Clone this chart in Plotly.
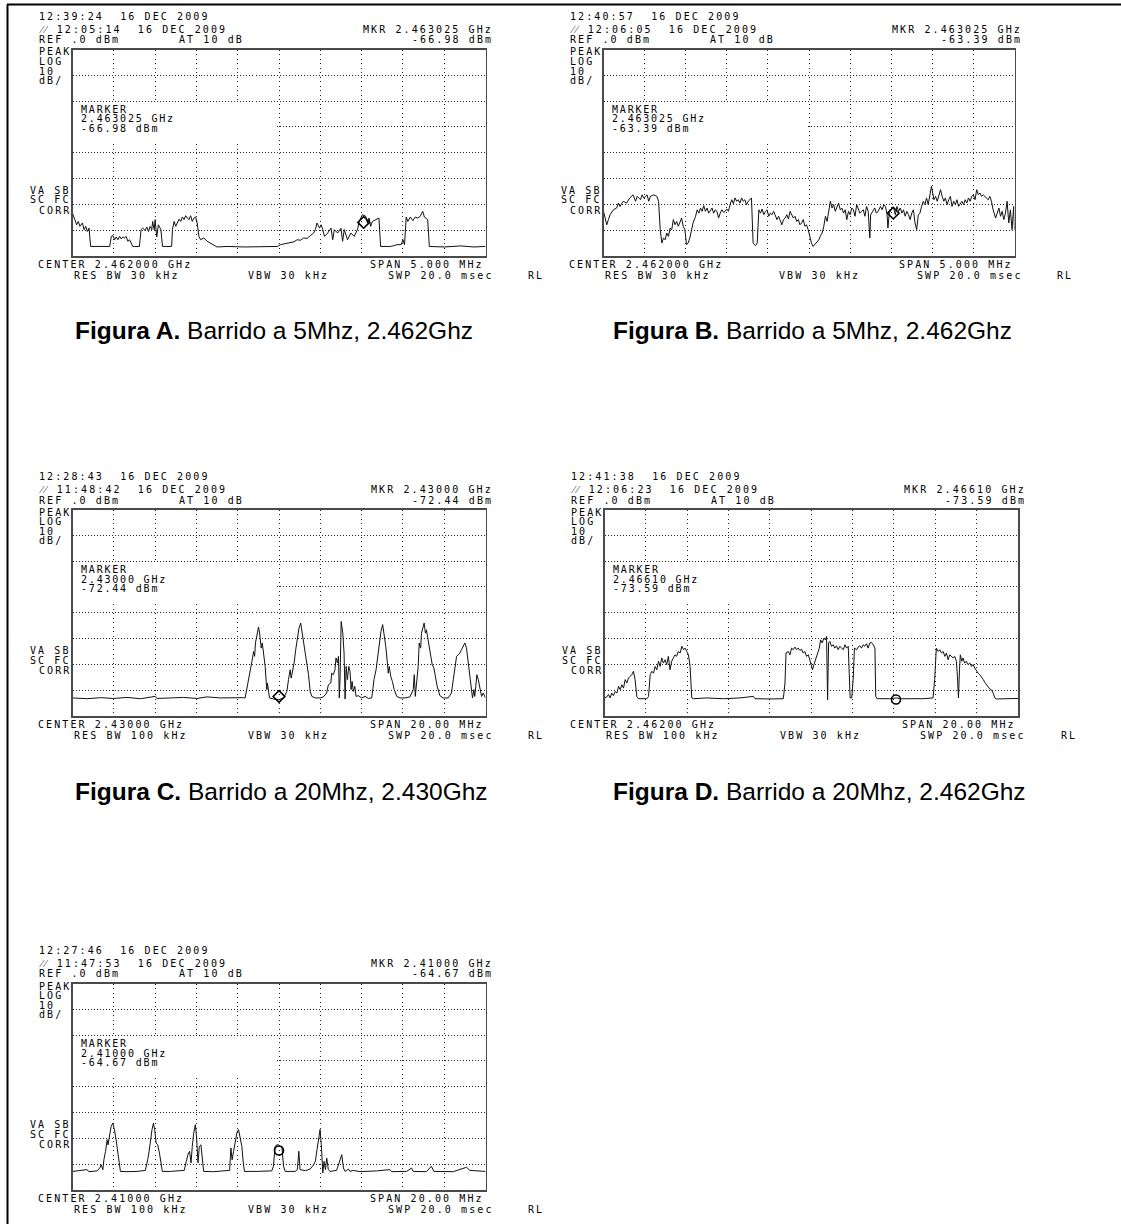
import plotly.graph_objects as go

W, H = 1121, 1224

# ---------------- data (frequency offset from CENTER in MHz, level in dBm) ----------------
A_center_ghz = 2.462
A_span_mhz = 5.0
A_trace = [(-2.50,-63.4),(-2.47,-65.9),(-2.45,-67.9),(-2.43,-66.6),(-2.41,-68.5),(-2.38,-67.2),(-2.36,-69.8),(-2.34,-68.5),(-2.32,-70.5),(-2.30,-69.2),(-2.28,-76.3),(-2.05,-76.3),(-2.03,-72.4),(-2.01,-72.1),(-1.99,-73.7),(-1.97,-72.6),(-1.95,-73.7),(-1.93,-72.4),(-1.91,-73.4),(-1.89,-72.6),(-1.87,-73.0),(-1.85,-72.4),(-1.83,-74.3),(-1.81,-73.7),(-1.79,-75.2),(-1.77,-76.3),(-1.69,-76.3),(-1.67,-69.8),(-1.65,-69.2),(-1.62,-70.1),(-1.60,-68.8),(-1.58,-70.5),(-1.56,-68.5),(-1.54,-69.8),(-1.53,-66.6),(-1.51,-69.8),(-1.50,-65.9),(-1.48,-72.6),(-1.46,-67.9),(-1.43,-69.8),(-1.41,-76.3),(-1.30,-76.3),(-1.29,-69.8),(-1.27,-66.6),(-1.25,-68.5),(-1.23,-67.2),(-1.21,-65.7),(-1.19,-66.6),(-1.17,-64.9),(-1.15,-65.9),(-1.13,-64.4),(-1.11,-65.3),(-1.09,-65.9),(-1.07,-64.4),(-1.05,-66.6),(-1.03,-65.3),(-1.01,-64.9),(-0.99,-67.2),(-0.97,-72.4),(-0.95,-73.7),(-0.91,-73.0),(-0.87,-74.3),(-0.83,-75.0),(-0.79,-75.6),(-0.75,-76.5),(-0.63,-76.3),(-0.42,-76.5),(-0.22,-76.4),(-0.02,-76.3),(0.02,-75.6),(0.10,-75.0),(0.18,-74.5),(0.22,-73.7),(0.26,-73.9),(0.30,-73.0),(0.34,-73.2),(0.38,-72.1),(0.42,-71.1),(0.44,-69.8),(0.46,-67.2),(0.49,-69.2),(0.51,-67.9),(0.53,-69.8),(0.55,-72.4),(0.59,-71.1),(0.63,-69.2),(0.65,-73.7),(0.67,-69.8),(0.71,-71.1),(0.75,-69.2),(0.77,-74.3),(0.79,-69.8),(0.83,-73.7),(0.87,-71.1),(0.91,-72.4),(0.95,-69.8),(0.97,-66.6),(0.99,-65.3),(1.01,-64.0),(1.05,-64.6),(1.07,-67.2),(1.09,-65.3),(1.11,-68.5),(1.13,-66.6),(1.17,-65.9),(1.21,-65.3),(1.23,-76.3),(1.35,-76.3),(1.39,-76.0),(1.43,-75.6),(1.48,-75.6),(1.50,-73.7),(1.52,-75.6),(1.54,-64.9),(1.56,-66.6),(1.59,-64.9),(1.62,-66.3),(1.65,-64.9),(1.68,-65.3),(1.71,-64.6),(1.74,-62.7),(1.76,-64.9),(1.80,-65.9),(1.82,-76.3),(2.00,-76.5),(2.20,-76.1),(2.36,-76.5),(2.50,-76.3)]
A_marker = (1.025, -66.98)

B_center_ghz = 2.462
B_span_mhz = 5.0
B_trace = [(-2.50,-62.7),(-2.48,-65.3),(-2.46,-67.9),(-2.44,-65.9),(-2.42,-64.0),(-2.38,-62.1),(-2.34,-61.4),(-2.32,-59.5),(-2.30,-60.8),(-2.26,-58.8),(-2.22,-59.5),(-2.18,-57.5),(-2.14,-56.3),(-2.11,-58.8),(-2.09,-56.9),(-2.05,-58.2),(-2.03,-56.3),(-2.01,-57.5),(-1.97,-56.3),(-1.95,-58.8),(-1.93,-56.9),(-1.89,-56.3),(-1.85,-56.9),(-1.83,-58.8),(-1.81,-69.8),(-1.79,-75.0),(-1.77,-73.0),(-1.75,-73.7),(-1.73,-71.1),(-1.71,-72.4),(-1.69,-69.2),(-1.67,-69.8),(-1.65,-65.9),(-1.63,-67.9),(-1.61,-66.6),(-1.59,-68.5),(-1.57,-67.2),(-1.55,-65.3),(-1.53,-68.5),(-1.51,-69.8),(-1.49,-75.6),(-1.47,-75.0),(-1.45,-73.0),(-1.43,-69.8),(-1.41,-67.2),(-1.38,-64.6),(-1.36,-62.1),(-1.34,-63.4),(-1.32,-61.4),(-1.30,-62.7),(-1.28,-60.5),(-1.26,-62.7),(-1.24,-61.4),(-1.22,-63.4),(-1.20,-62.1),(-1.18,-61.4),(-1.16,-63.4),(-1.14,-62.1),(-1.12,-62.7),(-1.10,-65.3),(-1.08,-63.4),(-1.06,-62.1),(-1.04,-63.1),(-1.02,-62.7),(-1.00,-61.8),(-0.98,-62.7),(-0.96,-60.1),(-0.94,-58.2),(-0.92,-59.7),(-0.90,-57.5),(-0.88,-58.8),(-0.86,-58.2),(-0.84,-59.5),(-0.82,-57.5),(-0.80,-58.8),(-0.78,-58.2),(-0.76,-60.1),(-0.74,-58.8),(-0.72,-58.2),(-0.70,-57.5),(-0.68,-75.0),(-0.65,-76.0),(-0.63,-75.0),(-0.61,-62.1),(-0.59,-63.4),(-0.57,-61.8),(-0.55,-64.0),(-0.53,-62.7),(-0.51,-62.1),(-0.49,-64.6),(-0.47,-63.4),(-0.45,-64.0),(-0.43,-62.7),(-0.41,-64.6),(-0.39,-65.9),(-0.37,-64.6),(-0.35,-66.6),(-0.33,-67.9),(-0.31,-65.9),(-0.29,-65.3),(-0.27,-64.0),(-0.25,-65.7),(-0.23,-62.7),(-0.21,-64.0),(-0.19,-65.3),(-0.17,-64.6),(-0.15,-66.6),(-0.13,-65.9),(-0.11,-67.9),(-0.09,-67.2),(-0.07,-65.9),(-0.05,-68.5),(-0.03,-67.9),(-0.01,-69.8),(0.01,-72.4),(0.03,-75.0),(0.05,-76.3),(0.08,-75.0),(0.10,-74.3),(0.12,-73.7),(0.14,-72.1),(0.16,-71.1),(0.18,-68.5),(0.20,-64.6),(0.22,-66.6),(0.24,-62.7),(0.26,-58.8),(0.28,-61.4),(0.30,-60.1),(0.32,-62.7),(0.34,-60.8),(0.36,-59.5),(0.38,-62.1),(0.40,-61.4),(0.42,-63.4),(0.44,-62.1),(0.46,-65.9),(0.48,-62.7),(0.50,-64.0),(0.52,-61.4),(0.54,-62.1),(0.56,-64.6),(0.58,-60.1),(0.60,-62.1),(0.62,-63.4),(0.64,-62.7),(0.66,-62.1),(0.68,-64.6),(0.70,-60.8),(0.72,-62.7),(0.74,-73.0),(0.75,-64.0),(0.78,-62.1),(0.80,-61.4),(0.82,-63.4),(0.84,-62.7),(0.87,-60.8),(0.89,-62.1),(0.91,-60.1),(0.93,-60.8),(0.95,-64.0),(0.96,-69.2),(0.98,-62.1),(0.99,-62.7),(1.01,-61.4),(1.03,-61.4),(1.05,-64.0),(1.07,-60.8),(1.09,-62.7),(1.11,-61.4),(1.13,-63.4),(1.15,-62.1),(1.17,-64.6),(1.19,-62.7),(1.21,-64.0),(1.23,-65.9),(1.25,-63.4),(1.27,-62.1),(1.29,-67.2),(1.31,-69.8),(1.33,-64.0),(1.35,-63.4),(1.37,-60.8),(1.39,-58.8),(1.41,-60.1),(1.43,-57.5),(1.45,-60.1),(1.47,-56.9),(1.49,-53.0),(1.52,-58.2),(1.54,-56.9),(1.56,-58.8),(1.58,-56.3),(1.60,-54.3),(1.62,-56.9),(1.64,-58.8),(1.66,-57.5),(1.68,-60.1),(1.70,-58.2),(1.72,-56.9),(1.74,-60.8),(1.76,-58.8),(1.78,-60.1),(1.80,-58.2),(1.82,-60.8),(1.84,-59.5),(1.86,-58.8),(1.88,-60.1),(1.90,-58.2),(1.92,-59.5),(1.94,-57.5),(1.96,-58.8),(1.98,-56.9),(2.00,-56.3),(2.02,-58.2),(2.04,-54.3),(2.06,-56.3),(2.08,-55.6),(2.10,-56.9),(2.12,-56.3),(2.14,-56.9),(2.16,-57.5),(2.18,-58.2),(2.20,-56.9),(2.22,-58.8),(2.24,-62.1),(2.27,-65.3),(2.29,-63.4),(2.31,-61.4),(2.33,-64.6),(2.35,-62.7),(2.37,-65.9),(2.39,-63.4),(2.41,-58.8),(2.43,-67.2),(2.45,-62.1),(2.47,-69.8),(2.49,-60.8),(2.50,-69.8)]
B_marker = (1.025, -63.39)

C_center_ghz = 2.430
C_span_mhz = 20.0
C_trace = [(-10.00,-73.0),(-9.29,-73.3),(-8.65,-72.9),(-8.00,-73.2),(-7.36,-72.8),(-6.71,-73.3),(-5.99,-72.4),(-5.91,-73.2),(-5.26,-73.0),(-4.62,-72.8),(-3.97,-73.2),(-3.49,-72.6),(-2.84,-73.0),(-2.20,-72.8),(-1.72,-72.9),(-1.64,-73.0),(-1.56,-69.8),(-1.47,-65.9),(-1.39,-63.4),(-1.31,-58.8),(-1.23,-55.0),(-1.18,-56.9),(-1.14,-51.7),(-1.07,-47.9),(-0.99,-45.5),(-0.94,-47.9),(-0.91,-50.5),(-0.86,-53.7),(-0.81,-51.7),(-0.75,-55.6),(-0.67,-60.8),(-0.62,-66.6),(-0.59,-69.8),(-0.56,-67.2),(-0.51,-71.1),(-0.46,-73.0),(-0.27,-73.4),(-0.02,-73.7),(0.22,-73.0),(0.38,-70.5),(0.46,-65.9),(0.54,-62.1),(0.59,-65.3),(0.65,-62.7),(0.73,-59.5),(0.81,-54.3),(0.89,-49.2),(0.97,-45.9),(1.05,-44.0),(1.12,-47.9),(1.18,-51.7),(1.27,-55.6),(1.35,-60.1),(1.43,-64.0),(1.51,-70.5),(1.59,-72.4),(1.75,-73.0),(1.99,-73.0),(2.15,-72.6),(2.31,-71.1),(2.39,-67.9),(2.51,-67.2),(2.55,-63.4),(2.63,-64.0),(2.71,-62.1),(2.76,-57.5),(2.83,-59.5),(2.88,-56.9),(2.92,-73.0),(2.96,-64.6),(3.01,-43.4),(3.09,-47.9),(3.15,-55.6),(3.20,-73.4),(3.25,-60.8),(3.31,-65.9),(3.38,-60.8),(3.44,-62.7),(3.49,-69.8),(3.54,-66.6),(3.60,-70.5),(3.67,-68.5),(3.73,-72.4),(3.84,-72.1),(4.00,-73.0),(4.17,-72.4),(4.33,-73.2),(4.49,-73.0),(4.54,-69.8),(4.60,-65.9),(4.70,-62.1),(4.78,-56.9),(4.86,-51.7),(4.94,-47.2),(5.02,-44.6),(5.09,-47.9),(5.17,-53.0),(5.25,-59.5),(5.29,-63.4),(5.34,-60.8),(5.41,-64.6),(5.49,-66.6),(5.58,-69.8),(5.70,-72.4),(5.86,-73.0),(6.10,-73.0),(6.34,-72.6),(6.50,-69.8),(6.55,-64.0),(6.60,-72.4),(6.66,-67.9),(6.74,-60.8),(6.79,-51.7),(6.86,-53.7),(6.90,-47.9),(6.98,-45.9),(7.03,-44.0),(7.09,-47.9),(7.14,-46.6),(7.22,-50.5),(7.27,-53.0),(7.34,-55.6),(7.42,-60.1),(7.50,-61.4),(7.58,-64.6),(7.66,-68.5),(7.79,-72.1),(7.95,-73.0),(8.19,-73.0),(8.35,-71.1),(8.44,-65.9),(8.52,-61.4),(8.60,-56.9),(8.68,-56.3),(8.76,-55.6),(8.84,-54.3),(8.92,-53.0),(9.00,-51.7),(9.08,-53.7),(9.16,-58.8),(9.24,-64.6),(9.32,-69.8),(9.37,-73.0),(9.44,-69.8),(9.48,-72.4),(9.53,-68.5),(9.58,-64.0),(9.65,-65.9),(9.73,-69.8),(9.81,-72.4),(9.89,-71.1),(10.00,-73.0)]
C_marker = (0.0, -72.44)

D_center_ghz = 2.462
D_span_mhz = 20.0
D_trace = [(-10.00,-73.0),(-9.89,-72.6),(-9.81,-71.7),(-9.73,-73.0),(-9.65,-71.1),(-9.57,-72.1),(-9.48,-70.5),(-9.40,-71.1),(-9.32,-68.5),(-9.24,-69.8),(-9.16,-67.9),(-9.08,-69.2),(-9.00,-65.9),(-8.92,-67.2),(-8.84,-65.3),(-8.76,-64.6),(-8.68,-64.0),(-8.60,-62.7),(-8.52,-65.9),(-8.44,-72.4),(-8.36,-73.3),(-7.95,-73.3),(-7.87,-72.4),(-7.79,-64.0),(-7.71,-62.7),(-7.63,-63.4),(-7.55,-60.8),(-7.47,-62.1),(-7.39,-58.8),(-7.31,-60.8),(-7.23,-57.5),(-7.15,-59.5),(-7.07,-58.2),(-6.99,-60.1),(-6.91,-56.9),(-6.83,-62.1),(-6.75,-58.8),(-6.67,-57.5),(-6.59,-56.3),(-6.51,-56.9),(-6.43,-55.0),(-6.34,-55.6),(-6.26,-53.0),(-6.18,-54.3),(-6.10,-53.7),(-6.02,-55.0),(-5.94,-56.3),(-5.86,-60.8),(-5.78,-73.0),(-5.70,-73.3),(-5.06,-73.0),(-4.25,-73.3),(-3.45,-73.0),(-2.80,-72.4),(-2.72,-73.3),(-2.00,-73.4),(-1.35,-73.3),(-1.27,-67.2),(-1.22,-55.6),(-1.11,-55.0),(-1.03,-56.3),(-0.95,-53.7),(-0.87,-54.3),(-0.79,-53.3),(-0.71,-54.3),(-0.63,-53.7),(-0.55,-54.6),(-0.47,-54.1),(-0.39,-55.6),(-0.31,-55.0),(-0.23,-56.9),(-0.14,-56.3),(-0.06,-58.8),(0.02,-60.8),(0.06,-62.1),(0.13,-60.1),(0.21,-58.2),(0.29,-55.6),(0.39,-53.7),(0.45,-50.5),(0.53,-51.7),(0.61,-49.8),(0.68,-50.5),(0.74,-49.2),(0.79,-73.7),(0.84,-51.7),(0.90,-51.1),(0.98,-53.0),(1.06,-52.4),(1.14,-53.7),(1.22,-52.8),(1.30,-54.3),(1.38,-53.0),(1.47,-53.7),(1.55,-54.3),(1.63,-52.4),(1.71,-53.7),(1.79,-53.0),(1.84,-67.2),(1.88,-73.0),(1.96,-73.0),(2.03,-65.3),(2.09,-53.7),(2.19,-54.3),(2.27,-53.3),(2.35,-52.8),(2.43,-53.7),(2.51,-52.4),(2.59,-53.0),(2.67,-52.0),(2.75,-53.7),(2.83,-51.7),(2.91,-51.5),(3.00,-52.4),(3.08,-53.7),(3.12,-72.4),(3.19,-73.3),(3.80,-73.3),(4.12,-73.0),(4.36,-73.3),(4.77,-73.3),(5.41,-73.3),(5.89,-73.0),(5.97,-65.9),(6.05,-53.7),(6.14,-55.0),(6.22,-54.3),(6.30,-55.6),(6.38,-55.0),(6.46,-56.9),(6.54,-55.6),(6.62,-58.2),(6.70,-56.3),(6.78,-56.9),(6.86,-57.5),(6.94,-56.9),(7.02,-58.8),(7.07,-64.6),(7.12,-73.0),(7.17,-62.1),(7.21,-56.3),(7.28,-58.8),(7.34,-57.5),(7.42,-59.5),(7.50,-58.8),(7.58,-60.1),(7.67,-59.5),(7.75,-60.8),(7.83,-60.1),(7.91,-61.4),(7.99,-62.7),(8.07,-63.4),(8.15,-64.0),(8.24,-64.9),(8.32,-65.9),(8.39,-66.9),(8.48,-67.9),(8.56,-68.5),(8.63,-69.5),(8.71,-69.8),(8.80,-71.1),(8.88,-73.0),(8.95,-73.4),(10.00,-73.2)]
D_marker = (4.10, -73.59)

E_center_ghz = 2.410
E_span_mhz = 20.0
E_trace = [(-10.00,-72.8),(-9.61,-72.5),(-9.29,-72.1),(-9.21,-72.9),(-8.81,-72.6),(-8.68,-71.5),(-8.61,-70.2),(-8.53,-72.1),(-8.48,-68.3),(-8.40,-65.0),(-8.32,-60.5),(-8.28,-62.5),(-8.21,-59.2),(-8.13,-55.4),(-8.05,-54.1),(-7.97,-56.6),(-7.89,-60.5),(-7.84,-63.1),(-7.76,-68.3),(-7.68,-72.8),(-7.36,-72.9),(-6.87,-72.8),(-6.47,-72.4),(-6.42,-70.8),(-6.36,-68.3),(-6.29,-65.0),(-6.23,-60.5),(-6.15,-56.6),(-6.08,-54.1),(-6.02,-56.6),(-5.95,-61.8),(-5.87,-62.5),(-5.79,-65.7),(-5.71,-70.8),(-5.65,-72.8),(-5.26,-72.8),(-4.86,-72.5),(-4.59,-72.4),(-4.49,-68.9),(-4.41,-66.3),(-4.33,-65.0),(-4.26,-69.5),(-4.20,-63.1),(-4.13,-57.9),(-4.05,-54.7),(-3.99,-59.9),(-3.92,-69.5),(-3.86,-63.1),(-3.78,-62.5),(-3.72,-67.0),(-3.65,-72.8),(-3.17,-72.9),(-2.52,-72.6),(-2.39,-72.4),(-2.33,-63.7),(-2.27,-68.3),(-2.20,-65.0),(-2.12,-61.2),(-2.04,-57.9),(-1.96,-56.6),(-1.88,-59.9),(-1.80,-63.1),(-1.72,-70.2),(-1.67,-72.8),(-1.07,-72.8),(-0.35,-72.6),(-0.27,-70.8),(-0.19,-63.1),(-0.10,-62.5),(-0.02,-62.5),(0.06,-63.1),(0.14,-63.1),(0.22,-70.8),(0.30,-72.8),(0.78,-72.8),(0.89,-72.1),(0.96,-65.0),(1.02,-72.1),(1.27,-72.5),(1.51,-71.9),(1.68,-70.2),(1.76,-68.9),(1.84,-64.4),(1.91,-59.9),(1.99,-56.6),(2.05,-62.5),(2.12,-73.4),(2.18,-68.9),(2.25,-72.1),(2.31,-67.6),(2.39,-72.1),(2.47,-72.8),(2.79,-72.4),(2.96,-68.3),(3.04,-66.3),(3.12,-71.5),(3.20,-72.8),(3.36,-71.9),(3.44,-72.8),(3.60,-72.4),(3.92,-72.9),(4.73,-72.6),(5.37,-72.1),(5.45,-72.9),(6.18,-72.8),(6.42,-71.5),(6.50,-72.8),(7.14,-72.9),(7.38,-70.8),(7.50,-72.8),(8.44,-72.9),(9.08,-71.2),(9.24,-72.4),(10.00,-72.8)]
E_marker = (0.0, -64.67)

# ---------------- text ----------------
A_time = ["12:39:24\u00a0\u00a016 DEC 2009", "\u2044\u2044 12:05:14\u00a0\u00a016 DEC 2009"]
B_time = ["12:40:57\u00a0\u00a016 DEC 2009", "\u2044\u2044 12:06:05\u00a0\u00a016 DEC 2009"]
C_time = ["12:28:43\u00a0\u00a016 DEC 2009", "\u2044\u2044 11:48:42\u00a0\u00a016 DEC 2009"]
D_time = ["12:41:38\u00a0\u00a016 DEC 2009", "\u2044\u2044 12:06:23\u00a0\u00a016 DEC 2009"]
E_time = ["12:27:46\u00a0\u00a016 DEC 2009", "\u2044\u2044 11:47:53\u00a0\u00a016 DEC 2009"]
A_mkr = ["MKR 2.463025 GHz", "-66.98 dBm", "2.463025 GHz"]
B_mkr = ["MKR 2.463025 GHz", "-63.39 dBm", "2.463025 GHz"]
C_mkr = ["MKR 2.43000 GHz", "-72.44 dBm", "2.43000 GHz"]
D_mkr = ["MKR 2.46610 GHz", "-73.59 dBm", "2.46610 GHz"]
E_mkr = ["MKR 2.41000 GHz", "-64.67 dBm", "2.41000 GHz"]
A_foot = ["CENTER 2.462000 GHz", "RES BW 30 kHz", "SPAN 5.000 MHz"]
B_foot = ["CENTER 2.462000 GHz", "RES BW 30 kHz", "SPAN 5.000 MHz"]
C_foot = ["CENTER 2.43000 GHz", "RES BW 100 kHz", "SPAN 20.00 MHz"]
D_foot = ["CENTER 2.46200 GHz", "RES BW 100 kHz", "SPAN 20.00 MHz"]
E_foot = ["CENTER 2.41000 GHz", "RES BW 100 kHz", "SPAN 20.00 MHz"]
A_caption = ["Figura A.", "Barrido a 5Mhz, 2.462Ghz"]
B_caption = ["Figura B.", "Barrido a 5Mhz, 2.462Ghz"]
C_caption = ["Figura C.", "Barrido a 20Mhz, 2.430Ghz"]
D_caption = ["Figura D.", "Barrido a 20Mhz, 2.462Ghz"]
E_caption = None
REF_TXT = "REF .0 dBm"
ATT_TXT = "AT 10 dB"
LEFT_TOP = ["PEAK", "LOG", "10", "dB/"]
LEFT_BOT = ["VA SB", "SC FC", "CORR"]
VBW_TXT = "VBW 30 kHz"
SWP_TXT = "SWP 20.0 msec"
RL_TXT = "RL"
REF_LEVEL = 0.0
DB_PER_DIV = 10
N_YDIV = 8
N_XDIV = 10

# ---------------- layout geometry (pixels) ----------------
boxes = {
    "A": (72.5, 49.5, 485.5, 256.0),
    "B": (603.5, 49.5, 1014.5, 256.0),
    "C": (72.5, 509.5, 485.5, 716.0),
    "D": (604.5, 509.5, 1018.0, 716.0),
    "E": (72.5, 983.5, 485.5, 1190.0),
}
caption_pos = {"A": (73, 331), "B": (611, 331), "C": (73, 791), "D": (611, 791)}

panels = {
    "A": dict(span=A_span_mhz, trace=A_trace, marker=A_marker, time=A_time, mkr=A_mkr, foot=A_foot, cap=A_caption, sym="diamond-open"),
    "B": dict(span=B_span_mhz, trace=B_trace, marker=B_marker, time=B_time, mkr=B_mkr, foot=B_foot, cap=B_caption, sym="diamond-open"),
    "C": dict(span=C_span_mhz, trace=C_trace, marker=C_marker, time=C_time, mkr=C_mkr, foot=C_foot, cap=C_caption, sym="diamond-open"),
    "D": dict(span=D_span_mhz, trace=D_trace, marker=D_marker, time=D_time, mkr=D_mkr, foot=D_foot, cap=D_caption, sym="circle-open"),
    "E": dict(span=E_span_mhz, trace=E_trace, marker=E_marker, time=E_time, mkr=E_mkr, foot=E_foot, cap=E_caption, sym="circle-open"),
}

fig = go.Figure()
annotations = []
shapes = []
MONO = "DejaVu Sans Mono"
TXTCOL = "#000000"


def px(x):
    return x / W


def py(y):
    return 1 - y / H


def label(x, y, s, anchor="left", size=10, ls=2.1):
    annotations.append(dict(
        x=px(x), y=py(y), xref="paper", yref="paper",
        text=f'<span style="letter-spacing:{ls}px">{s}</span>',
        showarrow=False, xanchor=anchor, yanchor="middle", borderpad=0,
        font=dict(family=MONO, size=size, color=TXTCOL)))


for i, (key, p) in enumerate(panels.items(), start=1):
    L, T, R, B = boxes[key]
    span = p["span"]
    xs = [d[0] for d in p["trace"]]
    ys = [d[1] for d in p["trace"]]
    xa = f"x{i}" if i > 1 else "x"
    ya = f"y{i}" if i > 1 else "y"
    fig.add_trace(go.Scatter(x=xs, y=ys, mode="lines", xaxis=xa, yaxis=ya,
                             line=dict(color="#111111", width=1), hoverinfo="skip"))
    fig.add_trace(go.Scatter(x=[p["marker"][0]], y=[p["marker"][1]], mode="markers", xaxis=xa, yaxis=ya,
                             hoverinfo="skip",
                             marker=dict(symbol=p["sym"], size=9, color="#000000", line=dict(width=1.6, color="#000000"))))
    axkw = dict(showticklabels=False, ticks="", zeroline=False, showline=True, mirror=True,
                linecolor="#4a4a4a", linewidth=1.5, showgrid=True, gridcolor="#222222", gridwidth=1,
                fixedrange=True)
    fig.layout[f"xaxis{i if i > 1 else ''}"] = dict(
        domain=[px(L), px(R)], range=[-span / 2, span / 2], dtick=span / N_XDIV, tick0=0,
        anchor=ya, griddash="1px,3.5px", **axkw)
    fig.layout[f"yaxis{i if i > 1 else ''}"] = dict(
        domain=[py(B), py(T)], range=[REF_LEVEL - N_YDIV * DB_PER_DIV, REF_LEVEL], dtick=DB_PER_DIV, tick0=0,
        anchor=xa, griddash="1px,2px", **axkw)
    # area of the screen hidden behind the marker read-out
    shapes.append(dict(type="rect", xref=xa, yref=ya, x0=-span / 2, x1=-span * 0.006, y0=-35.5, y1=-20.5,
                       fillcolor="white", line=dict(width=0), layer="between"))

    # header
    label(L - 34.5, T - 33, p["time"][0])
    label(L - 34.5, T - 20.5, p["time"][1])
    label(L - 34.5, T - 9.5, REF_TXT)
    label(L + 105.5, T - 9.5, ATT_TXT)
    label(R + 8.5, T - 20.5, p["mkr"][0], anchor="right")
    label(R + 8.5, T - 9.5, p["mkr"][1], anchor="right")
    for k, s in enumerate(LEFT_TOP):
        label(L - 34.5, T + 2.5 + k * 9.6, s)
    for k, s in enumerate(LEFT_BOT):
        label(L - 0.5, T + 140.5 + k * 10, s, anchor="right")
    # marker read-out inside the screen
    label(L + 7.5, T + 60, "MARKER", ls=1.8)
    label(L + 7.5, T + 69.5, p["mkr"][2], ls=1.8)
    label(L + 7.5, T + 79, p["mkr"][1], ls=1.8)
    # footer
    label(L - 36, B + 8.5, p["foot"][0])
    label(R - 1, B + 8.5, p["foot"][2], anchor="right")
    label(L + 0.5, B + 19.5, p["foot"][1])
    label(L + 174.5, B + 19.5, VBW_TXT)
    label(R + 9, B + 19.5, SWP_TXT, anchor="right")
    label(R + 41.5, B + 19.5, RL_TXT)
    # caption
    if p["cap"]:
        cx, cy = caption_pos[key]
        annotations.append(dict(
            x=px(cx), y=py(cy), xref="paper", yref="paper", showarrow=False,
            xanchor="left", yanchor="middle",
            text=f"<b>{p['cap'][0]}</b> {p['cap'][1]}",
            font=dict(family="Liberation Sans, Arial", size=24.5, color="#000000")))

# page frame
shapes.append(dict(type="line", xref="paper", yref="paper", x0=px(7), x1=1, y0=py(4.5), y1=py(4.5),
                   line=dict(color="#000000", width=2)))
shapes.append(dict(type="line", xref="paper", yref="paper", x0=px(7.5), x1=px(7.5), y0=0, y1=py(4.5),
                   line=dict(color="#000000", width=2)))

fig.update_layout(width=W, height=H, margin=dict(l=0, r=0, t=0, b=0), autosize=False,
                  paper_bgcolor="white", plot_bgcolor="white", showlegend=False, hovermode=False,
                  annotations=annotations, shapes=shapes)

fig.write_html("out.html", config={"displayModeBar": False, "staticPlot": True},
               post_script="document.body.style.margin='0px';document.body.style.overflow='hidden';")
